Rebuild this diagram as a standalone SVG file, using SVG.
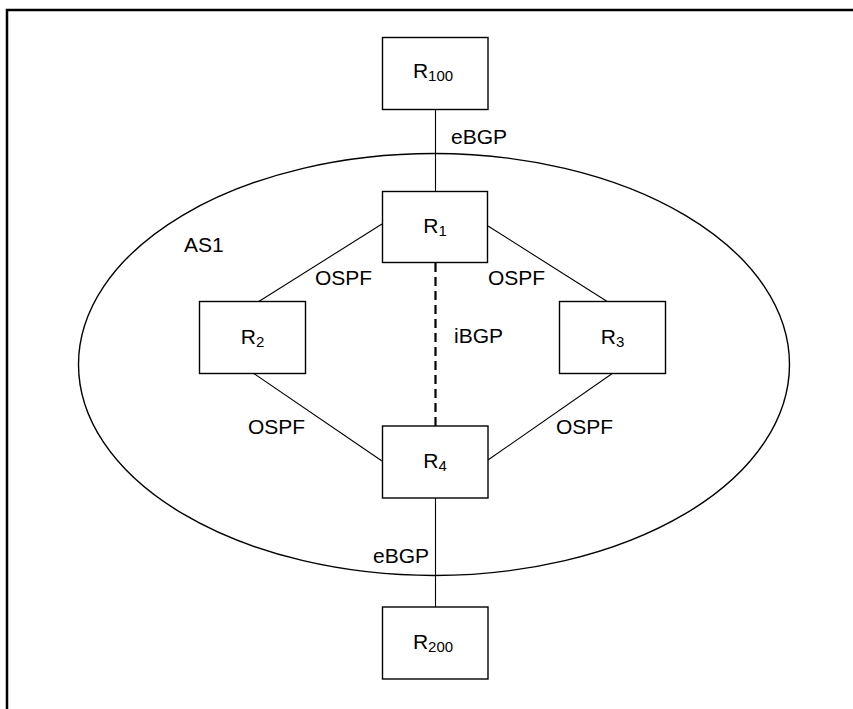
<svg xmlns="http://www.w3.org/2000/svg" width="853" height="709" viewBox="0 0 853 709">
<style>
.box{fill:#fff;stroke:#000;stroke-width:1.4}
.ln{stroke:#000;stroke-width:1.1;fill:none}
.dash{stroke:#000;stroke-width:2.2;stroke-dasharray:9 5;fill:none}
text{font-family:"Liberation Sans",Arial,sans-serif;font-size:21px;fill:#000}
.sub{font-size:15px}
</style>
<rect x="7" y="10" width="900" height="760" fill="#fff" stroke="#000" stroke-width="2.5"/>
<ellipse cx="434" cy="364.5" rx="355.5" ry="211" fill="none" stroke="#000" stroke-width="1.4"/>
<text x="184" y="252">AS1</text>
<g id="connectors">
<line class="ln" x1="435.5" y1="109" x2="435.5" y2="192"/>
<line class="ln" x1="435.5" y1="498" x2="435.5" y2="607"/>
<line class="ln" x1="382" y1="224" x2="258" y2="302"/>
<line class="ln" x1="488" y1="226" x2="608" y2="302"/>
<line class="ln" x1="253" y1="373" x2="382" y2="461"/>
<line class="ln" x1="613" y1="373" x2="488" y2="460"/>
<line class="dash" x1="435.5" y1="263" x2="435.5" y2="426"/>
<text x="451" y="144">eBGP</text>
<text x="373" y="563">eBGP</text>
<text x="315" y="285">OSPF</text>
<text x="488" y="285">OSPF</text>
<text x="248" y="434">OSPF</text>
<text x="556" y="434">OSPF</text>
<text x="454" y="343">iBGP</text>
</g>
<g id="R100"><rect class="box" x="382.5" y="37.5" width="105.5" height="72"/><text x="433" y="78" text-anchor="middle">R<tspan class="sub" dy="3">100</tspan></text></g>
<g id="R1"><rect class="box" x="382.5" y="191.5" width="105" height="71"/><text x="435" y="233" text-anchor="middle">R<tspan class="sub" dy="3">1</tspan></text></g>
<g id="R2"><rect class="box" x="199.5" y="301.5" width="106" height="72"/><text x="252.5" y="344" text-anchor="middle">R<tspan class="sub" dy="3">2</tspan></text></g>
<g id="R3"><rect class="box" x="559.5" y="301.5" width="106" height="72"/><text x="612.5" y="344" text-anchor="middle">R<tspan class="sub" dy="3">3</tspan></text></g>
<g id="R4"><rect class="box" x="382.5" y="426" width="105.5" height="72"/><text x="435" y="468" text-anchor="middle">R<tspan class="sub" dy="3">4</tspan></text></g>
<g id="R200"><rect class="box" x="382.5" y="607" width="105.5" height="72"/><text x="433" y="649" text-anchor="middle">R<tspan class="sub" dy="3">200</tspan></text></g>
</svg>
